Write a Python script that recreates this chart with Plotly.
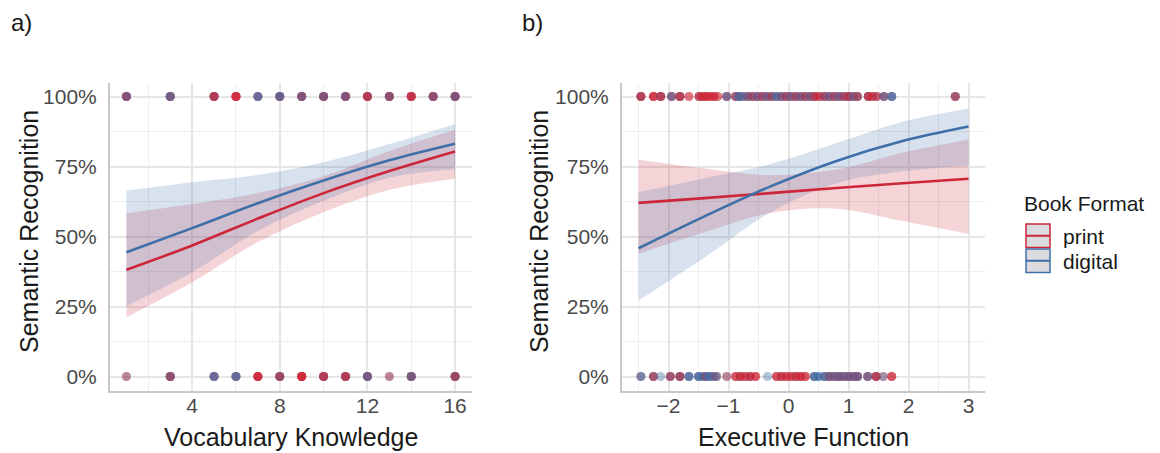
import plotly.graph_objects as go

W, H = 1160, 453

# ---------------- Panel a: Vocabulary Knowledge ----------------
vocab_grid = [1, 4, 7, 10, 13, 16]
a_print_fit = [0.381, 0.468, 0.564, 0.655, 0.734, 0.804]
a_print_lo = [0.212, 0.337, 0.480, 0.587, 0.666, 0.706]
a_print_hi = [0.583, 0.616, 0.655, 0.715, 0.805, 0.881]
a_digital_fit = [0.444, 0.530, 0.619, 0.700, 0.772, 0.831]
a_digital_lo = [0.251, 0.372, 0.520, 0.628, 0.710, 0.740]
a_digital_hi = [0.664, 0.694, 0.720, 0.765, 0.830, 0.902]

# observed responses (p = print, d = digital), in drawing order per position
a_top_x = [1, 3, 5, 6, 7, 8, 9, 10, 11, 12, 13, 14, 15, 16]
a_top_fmt = ["dpdppd", "ddpdpd", "pdpdpp", "pppppp", "pdpdd", "pdppdd", "dpdppd", "dpdppd",
             "dpdppd", "pdpdpp", "pdpddp", "ppdppp", "pdpddp", "dpdppd"]
a_bot_x = [1, 3, 5, 6, 7, 8, 9, 10, 11, 12, 13, 14, 16]
a_bot_fmt = ["dp", "pdpddp", "pdpdd", "pdpdd", "pppppp", "dpdpdp", "ppppppp", "pdpdpp",
             "pdpdpp", "ddpdpd", "dp", "pdpdpd", "dpdpdp"]

# ---------------- Panel b: Executive Function ----------------
ef_grid = [-2.5, -1.4, -0.3, 0.8, 1.9, 3.0]
b_print_fit = [0.620, 0.637, 0.655, 0.673, 0.690, 0.706]
b_print_lo = [0.438, 0.515, 0.584, 0.599, 0.555, 0.509]
b_print_hi = [0.774, 0.743, 0.719, 0.739, 0.799, 0.846]
b_digital_fit = [0.458, 0.572, 0.679, 0.770, 0.841, 0.893]
b_digital_lo = [0.271, 0.425, 0.586, 0.690, 0.733, 0.754]
b_digital_hi = [0.658, 0.708, 0.759, 0.834, 0.910, 0.956]

b_top_x = [-2.46, -2.25, -2.13, -1.95, -1.81, -1.66, -1.49, -1.43, -1.37, -1.30,
           -1.24, -1.18, -1.03, -0.88, -0.82, -0.76, -0.68, -0.60, -0.52, -0.44,
           -0.36, -0.28, -0.20, -0.12, -0.04, 0.04, 0.12, 0.20, 0.28, 0.36,
           0.44, 0.52, 0.60, 0.68, 0.76, 0.84, 0.92, 1.00, 1.08, 1.15,
           1.33, 1.40, 1.47, 1.59, 1.72, 2.78]
b_top_fmt = ["dpdpp", "pppp", "dpdpp", "pdpd", "dpdpp", "pp", "pdpp", "ppp", "pppp", "ppp",
             "ppp", "pp", "pdpd", "dpdp", "pddd", "pdd", "pdpd", "dpdp", "pdpd", "dpdp",
             "pdpd", "dpdp", "pddd", "pdpd", "dpdp", "pdpd", "dpdp", "pdpd", "dpdp", "pdpd",
             "dpdpp", "ppp", "dpdp", "pdpd", "dpdp", "pdpd", "dpdp", "dpdpp", "pdpd", "dpdp",
             "dpdpp", "ppp", "dpp", "pdpd", "pddd", "dpdp"]
b_bot_x = [-2.46, -2.25, -2.13, -1.97, -1.81, -1.66, -1.50, -1.44, -1.38, -1.32,
           -1.26, -1.20, -1.03, -0.88, -0.80, -0.72, -0.64, -0.55, -0.35, -0.20,
           -0.12, -0.04, 0.04, 0.12, 0.20, 0.28, 0.43, 0.50, 0.60, 0.68,
           0.76, 0.84, 0.92, 1.00, 1.08, 1.15, 1.32, 1.46, 1.58, 1.72]
b_bot_fmt = ["pdd", "dpdp", "d", "dpdp", "pdpdp", "pddd", "pddd", "dd", "pdpd", "ddd",
             "pdd", "dpd", "dp", "ppp", "dppp", "ppp", "dppp", "ppp", "d", "ppp",
             "dppp", "ppp", "ppp", "dppp", "pppp", "ppp", "pddd", "ddd", "pddd", "dpdpd",
             "pdpd", "dpdpd", "pdpd", "dpdpd", "pdpd", "dpdpd", "pdpd", "dpdpp", "pd", "ppp"]

format_names = {"p": "print", "d": "digital"}
colors = {"print": (204, 38, 56), "digital": (62, 111, 168)}


def rgb(c, a=1.0):
    return f"rgba({c[0]},{c[1]},{c[2]},{a})"


def px_x(v):
    return v / W


def px_y(v):
    return 1 - v / H


fig = go.Figure()


def add_panel(xname, yname, grid, fits, los, his, rows):
    # confidence ribbons
    for fmt in ["print", "digital"]:
        fig.add_trace(go.Scatter(x=grid, y=los[fmt], mode="lines", line=dict(width=0, shape="spline"),
                                 showlegend=False, hoverinfo="skip", xaxis=xname, yaxis=yname))
        fig.add_trace(go.Scatter(x=grid, y=his[fmt], mode="lines", line=dict(width=0, shape="spline"),
                                 fill="tonexty", fillcolor=rgb(colors[fmt], 0.2),
                                 showlegend=False, hoverinfo="skip", xaxis=xname, yaxis=yname))
    # fitted lines
    for fmt in ["print", "digital"]:
        fig.add_trace(go.Scatter(x=grid, y=fits[fmt], mode="lines",
                                 line=dict(color=rgb(colors[fmt]), width=2.6, shape="spline"),
                                 name=fmt, showlegend=False, xaxis=xname, yaxis=yname))
    # observed points
    xs, ys, cs = [], [], []
    for yval, xlist, flist in rows:
        for xv, seq in zip(xlist, flist):
            for ch in seq:
                xs.append(xv)
                ys.append(yval)
                cs.append(rgb(colors[format_names[ch]], 0.4))
    fig.add_trace(go.Scatter(x=xs, y=ys, mode="markers",
                             marker=dict(size=9, color=cs, line=dict(width=0)),
                             showlegend=False, xaxis=xname, yaxis=yname))


add_panel("x", "y", vocab_grid,
          {"print": a_print_fit, "digital": a_digital_fit},
          {"print": a_print_lo, "digital": a_digital_lo},
          {"print": a_print_hi, "digital": a_digital_hi},
          [(1, a_top_x, a_top_fmt), (0, a_bot_x, a_bot_fmt)])
add_panel("x2", "y2", ef_grid,
          {"print": b_print_fit, "digital": b_digital_fit},
          {"print": b_print_lo, "digital": b_digital_lo},
          {"print": b_print_hi, "digital": b_digital_hi},
          [(1, b_top_x, b_top_fmt), (0, b_bot_x, b_bot_fmt)])

FONT = "Liberation Sans, Arial, Helvetica, sans-serif"
tickfont = dict(family=FONT, size=21, color="#4a4a4a")
GRID = "#e6e6e6"
MINOR = "#eeeeee"
LINE = "#c8c8c8"

y_tickvals = [0, 0.25, 0.5, 0.75, 1]
y_ticktext = ["0%", "25%", "50%", "75%", "100%"]
y_minor = [0.125, 0.375, 0.625, 0.875]

common_x = dict(showgrid=True, gridcolor=GRID, gridwidth=1.5, zeroline=False,
                showline=True, linecolor=LINE, linewidth=2, ticks="",
                tickfont=tickfont, ticklabelstandoff=-5)
common_y = dict(range=[-0.05, 1.05], tickmode="array", tickvals=y_tickvals, ticktext=y_ticktext,
                showgrid=True, gridcolor=GRID, gridwidth=1.5, zeroline=False,
                showline=True, linecolor=LINE, linewidth=2, ticks="",
                tickfont=tickfont, ticklabelstandoff=7,
                minor=dict(tickmode="array", tickvals=y_minor, showgrid=True, gridcolor=MINOR, gridwidth=1),
                domain=[px_y(390.5), px_y(82.5)])

fig.update_layout(
    width=W, height=H,
    margin=dict(l=0, r=0, t=0, b=0),
    paper_bgcolor="white", plot_bgcolor="white",
    font=dict(family=FONT),
    showlegend=False,
    xaxis=dict(domain=[px_x(110), px_x(471.5)], range=[0.25, 16.75], anchor="y",
               tickmode="array", tickvals=[4, 8, 12, 16],
               minor=dict(tickmode="array", tickvals=[2, 6, 10, 14], showgrid=True, gridcolor=MINOR, gridwidth=1),
               **common_x),
    yaxis=dict(anchor="x", **common_y),
    xaxis2=dict(domain=[px_x(622), px_x(985)], range=[-2.775, 3.275], anchor="y2",
                tickmode="array", tickvals=[-2, -1, 0, 1, 2, 3], ticktext=["\u22122", "\u22121", "0", "1", "2", "3"],
                minor=dict(tickmode="array", tickvals=[-2.5, -1.5, -0.5, 0.5, 1.5, 2.5], showgrid=True,
                           gridcolor=MINOR, gridwidth=1),
                **common_x),
    yaxis2=dict(anchor="x2", **common_y),
)

title_font = dict(family=FONT, size=25, color="#1a1a1a")
leg_font = dict(family=FONT, size=21, color="#1a1a1a")
ann = [
    dict(text="a)", x=px_x(9), y=px_y(22), xanchor="left", yanchor="middle", font=dict(family=FONT, size=24, color="#1a1a1a")),
    dict(text="b)", x=px_x(520), y=px_y(22), xanchor="left", yanchor="middle", font=dict(family=FONT, size=24, color="#1a1a1a")),
    dict(text="Vocabulary Knowledge", x=px_x(290.75), y=px_y(437), xanchor="center", yanchor="middle", font=title_font),
    dict(text="Executive Function", x=px_x(803.5), y=px_y(437), xanchor="center", yanchor="middle", font=title_font),
    dict(text="Semantic Recognition", x=px_x(29), y=px_y(232), textangle=-90, xanchor="center", yanchor="middle", font=title_font),
    dict(text="Semantic Recognition", x=px_x(539), y=px_y(232), textangle=-90, xanchor="center", yanchor="middle", font=title_font),
    dict(text="Book Format", x=px_x(1022), y=px_y(203), xanchor="left", yanchor="middle", font=leg_font),
    dict(text="print", x=px_x(1061), y=px_y(236), xanchor="left", yanchor="middle", font=leg_font),
    dict(text="digital", x=px_x(1061), y=px_y(261), xanchor="left", yanchor="middle", font=leg_font),
]
for a in ann:
    a.update(xref="paper", yref="paper", showarrow=False)
fig.update_layout(annotations=ann)

# legend keys (ribbon + line)
shapes = []
for i, fmt in enumerate(["print", "digital"]):
    top = 224 + i * 25
    bot = top + 23.5
    mid = (top + bot) / 2
    shapes.append(dict(type="rect", xref="paper", yref="paper", x0=px_x(1026), x1=px_x(1050),
                       y0=px_y(bot), y1=px_y(top), fillcolor="#dcdce0",
                       line=dict(color=rgb(colors[fmt]), width=1.5)))
    shapes.append(dict(type="line", xref="paper", yref="paper", x0=px_x(1026), x1=px_x(1050),
                       y0=px_y(mid), y1=px_y(mid), line=dict(color=rgb(colors[fmt]), width=2)))
fig.update_layout(shapes=shapes)

fig.write_html("out.html")
